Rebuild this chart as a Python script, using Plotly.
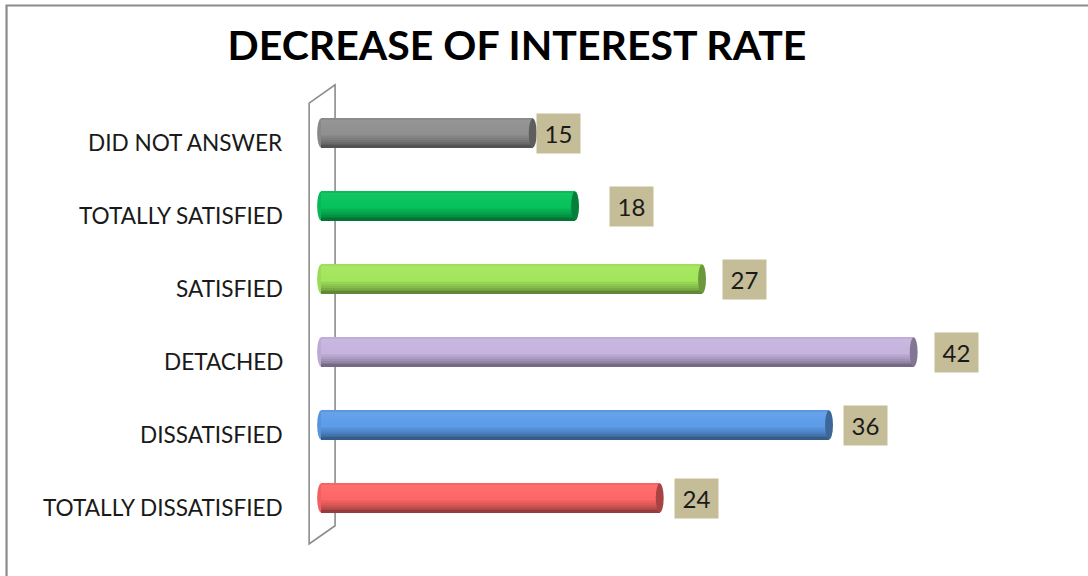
import plotly.graph_objects as go

# ---- data (top to bottom as displayed) ----
categories = ["DID NOT ANSWER", "TOTALLY SATISFIED", "SATISFIED",
              "DETACHED", "DISSATISFIED", "TOTALLY DISSATISFIED"]
values = [15, 18, 27, 42, 36, 24]
title_text = "DECREASE OF INTEREST RATE"

# ---- style ----
base_colors = ["#8f8f8f", "#06c25a", "#a2e65c", "#c6b3de", "#5c9ce8", "#fe6666"]
label_box = "#C4BD97"
label_offset = 3.0                             # data units right of bar end
label_nudge = [-1.2, 1.0, 0.0, 0.0, -0.4, -0.4]
FONT = "Lato, 'Open Sans', Arial, sans-serif"

bar_h = 0.395         # cylinder thickness (category units)
cap_r = 0.28          # half-width of the elliptical end caps (value units)
n_bands = 16

positions = list(range(len(categories) - 1, -1, -1))   # 5 .. 0


def hex_rgb(h):
    h = h.lstrip("#")
    return [int(h[i:i + 2], 16) for i in (0, 2, 4)]


def shade(h, f):
    r, g, b = hex_rgb(h)
    if f >= 1:
        mix = f - 1
        r, g, b = [c + (255 - c) * mix for c in (r, g, b)]
    else:
        r, g, b = [c * f for c in (r, g, b)]
    return "rgb(%d,%d,%d)" % tuple(max(0, min(255, round(c))) for c in (r, g, b))


# brightness profile across the cylinder, top edge -> bottom edge
profile = [(0.0, 0.92), (0.08, 1.06), (0.35, 1.02), (0.55, 1.0),
           (0.75, 0.85), (0.9, 0.68), (1.0, 0.55)]


def profile_at(t):
    for (t0, f0), (t1, f1) in zip(profile[:-1], profile[1:]):
        if t0 <= t <= t1:
            return f0 + (f1 - f0) * (t - t0) / (t1 - t0)
    return profile[-1][1]


fig = go.Figure()
band = bar_h / n_bands
for k in range(n_bands):
    t = (k + 0.5) / n_bands
    f = profile_at(t)
    fig.add_trace(go.Bar(
        orientation="h",
        x=values,
        y=positions,
        base=0,
        width=band * 1.08,
        offset=bar_h / 2 - (k + 1) * band,
        marker=dict(color=[shade(c, f) for c in base_colors], line=dict(width=0)),
        hoverinfo="skip",
        showlegend=False,
    ))

shapes = []

# side wall of the 3-D plot area
y_lo, y_hi = -0.63, 5.41
skew_x, skew_y = 1.84, 0.25
wall_col = "#8c8c8c"
shapes.append(dict(type="path", xref="x", yref="y", layer="below",
                   path=f"M {-0.85} {y_lo} L {-0.85} {y_hi} L {-0.85 + skew_x} {y_hi + skew_y} "
                        f"L {-0.85 + skew_x} {y_lo + skew_y} Z",
                   line=dict(color=wall_col, width=1.6), fillcolor="rgba(0,0,0,0)"))

for pos, val, col in zip(positions, values, base_colors):
    # rounded left end
    shapes.append(dict(type="circle", xref="x", yref="y", layer="below",
                       x0=-cap_r, x1=cap_r, y0=pos - bar_h / 2, y1=pos + bar_h / 2,
                       fillcolor=shade(col, 0.95), line=dict(width=0)))
    # darker elliptical face at the right end
    shapes.append(dict(type="circle", xref="x", yref="y", layer="above",
                       x0=val - cap_r, x1=val + cap_r,
                       y0=pos - bar_h / 2, y1=pos + bar_h / 2,
                       fillcolor=shade(col, 0.66), line=dict(width=0)))

# chart frame (top and left edges)
shapes.append(dict(type="path", xref="paper", yref="paper",
                   path="M -0.3872 -0.08 L -0.3872 1.1565 L 1.02 1.1565",
                   line=dict(color="#8c8c8c", width=2.2)))

annotations = []
for pos, cat in zip(positions, categories):
    annotations.append(dict(x=-0.0284, xref="paper", y=pos, yref="y",
                            text=cat, showarrow=False, xanchor="right",
                            yanchor="middle", yshift=-9,
                            font=dict(family=FONT, size=22.6, color="#1a1a1a")))
for pos, val, nd in zip(positions, values, label_nudge):
    annotations.append(dict(x=val + label_offset + nd, xref="x", y=pos, yref="y",
                            text=str(val), showarrow=False,
                            xanchor="center", yanchor="middle",
                            width=43, height=39, bgcolor=label_box, borderpad=0,
                            font=dict(family=FONT, size=24, color="#1a1a1a")))

fig.update_layout(
    width=1088, height=576,
    margin=dict(l=307, r=5, t=80, b=20),
    paper_bgcolor="white", plot_bgcolor="white",
    barmode="overlay", bargap=0,
    title=dict(text=title_text, x=517 / 1088, xanchor="center",
               y=1 - 46 / 576, yanchor="middle", yref="container",
               font=dict(family=FONT, size=41, color="#000000", weight="bold")),
    xaxis=dict(range=[-1.0, 54.0], visible=False, fixedrange=True),
    yaxis=dict(range=[-0.7945, 5.726], visible=False, fixedrange=True),
    shapes=shapes,
    annotations=annotations,
    showlegend=False,
)

fig.write_html("out.html")
